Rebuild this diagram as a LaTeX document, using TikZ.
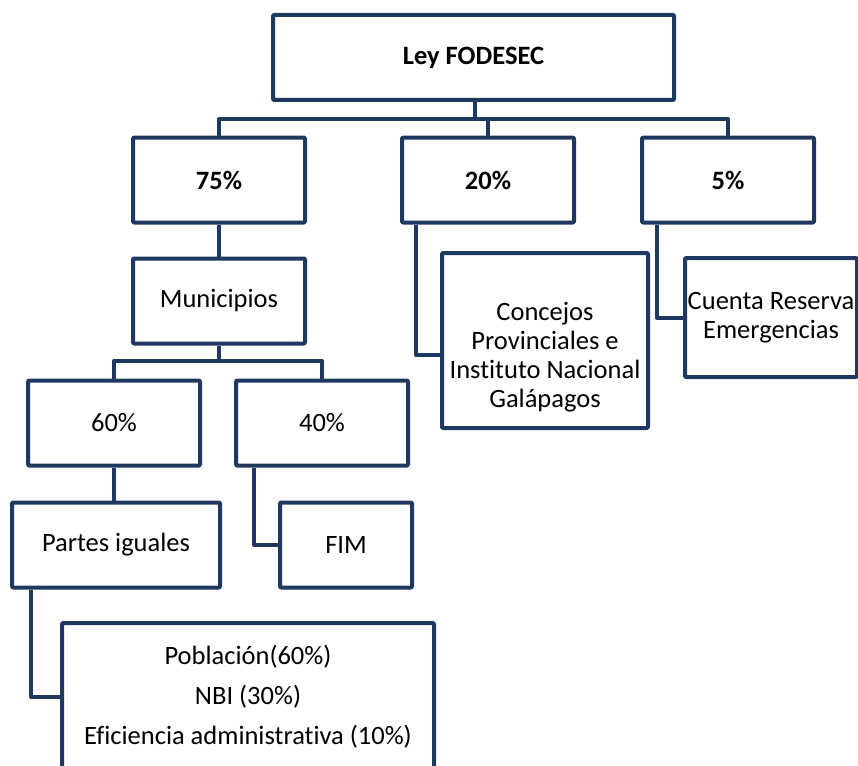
\documentclass[tikz,border=0pt]{standalone}
\usepackage{fontspec}
\setmainfont[Ligatures=CommonOff]{Carlito}
\usetikzlibrary{positioning}
\definecolor{navy}{RGB}{31,56,96}

\begin{document}
\begin{tikzpicture}[x=1pt,y=-1pt,line width=4pt,line join=round,font=\fontsize{26.5}{29}\selectfont]

    \tikzstyle{box}=[draw=navy,fill=white,rectangle,rounded corners=1pt,inner sep=0pt,align=center,minimum width=172pt,minimum height=85pt]
    \tikzstyle{link}=[draw=navy,line width=4pt]
    \useasboundingbox (0,0) rectangle (858,765);

    \node[box,minimum width=401pt,font=\fontsize{26.5}{29}\selectfont\bfseries] (ley) at (473.5,57.5) {Ley FODESEC};

    \node[box,font=\fontsize{26.5}{29}\selectfont\bfseries] (p75) at (219,180) {75\%};
    \node[box,font=\fontsize{26.5}{29}\selectfont\bfseries] (p20) at (488,180) {20\%};
    \node[box,font=\fontsize{26.5}{29}\selectfont\bfseries] (p5)  at (728,180) {5\%};

    \node[box] (muni) at (219,301) {Municipios};
    \node[box] (p60) at (114,423) {60\%};
    \node[box] (p40) at (322,423) {40\%};
    \node[box,minimum width=208pt] (partes) at (116,545) {Partes iguales};
    \node[box,minimum width=132pt] (fim) at (346,545) {FIM};
    \node[box,minimum width=372pt,minimum height=148pt] (crit) at (248,697)
        {Población(60\%)\\[11pt]NBI (30\%)\\[11pt]Eficiencia administrativa (10\%)};

    \node[box,minimum width=206pt,minimum height=175pt] (concejos) at (545,340.5)
        {\mbox{}\\[22pt]Concejos\\Provinciales e\\Instituto Nacional\\Galápagos};
    \node[box,minimum height=119pt] (cuenta) at (771,317.5) {Cuenta Reserva\\Emergencias};

    \coordinate (bus1) at (475,119);
    \coordinate (bus2) at (219,361);

    \path[link] (ley.south -| bus1) -- (bus1);
    \path[link] (p75.north) |- (bus1) -| (p5.north);
    \path[link] (p20.north) -- (p20.north |- bus1);
    \path[link] (p75) edge (muni);
    \path[link] (muni.south) -- (bus2);
    \path[link] (p60.north) |- (bus2) -| (p40.north);
    \path[link] (p60.south) -- (p60.south |- partes.north);
    \path[link] ([xshift=21pt]partes.south west) |- (crit.west);
    \path[link] ([xshift=20pt]p40.south west) |- (fim.west);
    \path[link] ([xshift=16pt]p20.south west) |- ([yshift=-14.5pt]concejos.west);
    \path[link] ([xshift=17pt]p5.south west) |- (cuenta.west);

\end{tikzpicture}
\end{document}
